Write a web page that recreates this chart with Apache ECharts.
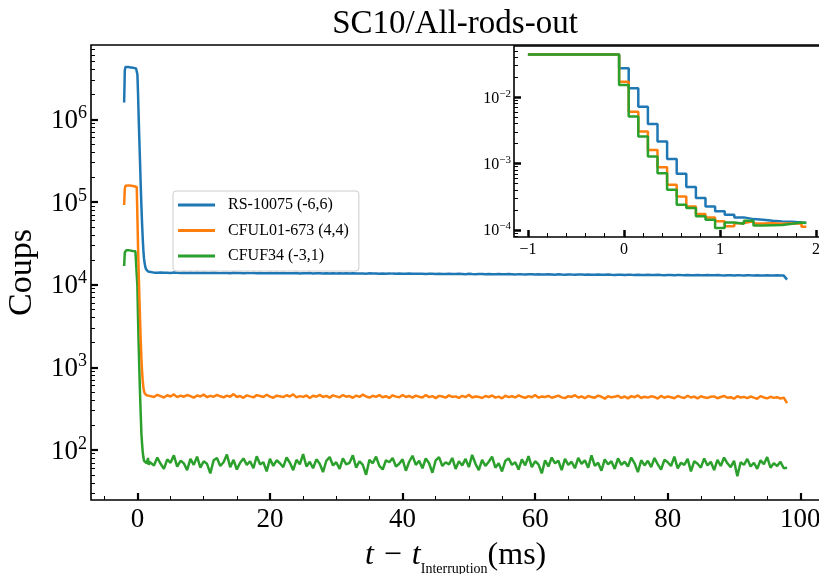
<!DOCTYPE html>
<html><head><meta charset="utf-8">
<script src="https://cdn.jsdelivr.net/npm/echarts@6/dist/echarts.min.js"></script>
<style>html,body{margin:0;padding:0;background:#fff}#c{width:819px;height:574px}</style>
</head><body><div id="c"></div>
<script>
const FONT = 'Liberation Serif';
const seriesNames = ['RS-10075 (-6,6)', 'CFUL01-673 (4,4)', 'CFUF34 (-3,1)'];
const colors = ['#1f77b4', '#ff7f0e', '#2ca02c'];

// time (ms) around the interruption, 0.1 ms bins
const tTransition = [-2.0,-1.9,-1.8,-1.7,-1.6,-1.5,-1.4,-1.3,-1.2,-1.1,-1.0,-0.9,-0.8,-0.7,-0.6,-0.5,-0.4,-0.3,-0.2,-0.1,
  0.0,0.1,0.2,0.3,0.4,0.5,0.6,0.7,0.8,0.9,1.0,1.1,1.2,1.3,1.4,1.5,1.6,1.7,1.8,1.9];
// time (ms) after the transient
const tFlat = [2,2.5,3,3.5,4,4.5,5,5.5,6,6.5,7,7.5,8,8.5,9,9.5,10,10.5,11,11.5,12,12.5,13,13.5,14,14.5,15,15.5,16,16.5,17,17.5,18,18.5,19,19.5,20,20.5,21,21.5,22,22.5,23,23.5,24,24.5,25,25.5,26,26.5,27,27.5,28,28.5,29,29.5,30,30.5,31,31.5,32,32.5,33,33.5,34,34.5,35,35.5,36,36.5,37,37.5,38,38.5,39,39.5,40,40.5,41,41.5,42,42.5,43,43.5,44,44.5,45,45.5,46,46.5,47,47.5,48,48.5,49,49.5,50,50.5,51,51.5,52,52.5,53,53.5,54,54.5,55,55.5,56,56.5,57,57.5,58,58.5,59,59.5,60,60.5,61,61.5,62,62.5,63,63.5,64,64.5,65,65.5,66,66.5,67,67.5,68,68.5,69,69.5,70,70.5,71,71.5,72,72.5,73,73.5,74,74.5,75,75.5,76,76.5,77,77.5,78,78.5,79,79.5,80,80.5,81,81.5,82,82.5,83,83.5,84,84.5,85,85.5,86,86.5,87,87.5,88,88.5,89,89.5,90,90.5,91,91.5,92,92.5,93,93.5,94,94.5,95,95.5,96,96.5,97,97.5,98];

const blueTransition = [1.6e6,3.9e6,4.3e6,4.35e6,4.35e6,4.35e6,4.3e6,4.3e6,4.3e6,4.28e6,4.25e6,4.25e6,4.22e6,4.2e6,4.2e6,4.18e6,4.15e6,4.15e6,4.12e6,4.1e6,
  3.5e6,2.0e6,1.0e6,5.4e5,3.0e5,1.6e5,9.2e4,5.6e4,3.7e4,2.6e4,2.05e4,1.8e4,1.63e4,1.54e4,1.49e4,1.46e4,1.44e4,1.43e4,1.42e4,1.41e4];
const blueFlat = [14050,13980,13920,14010,13890,13950,13870,13990,13910,13840,
  13930,13880,13960,13850,13900,13820,13940,13870,13800,13910,
  13850,13790,13880,13830,13760,13900,13810,13850,13770,13840,
  13790,13860,13740,13820,13780,13710,13850,13760,13800,13730,
  13810,13700,13770,13740,13820,13690,13760,13720,13800,13680,
  13750,13700,13640,13770,13680,13730,13660,13710,13620,13740,
  13660,13700,13610,13690,13640,13580,13700,13620,13660,13590,
  13640,13560,13670,13600,13550,13630,13580,13520,13650,13570,
  13510,13600,13540,13480,13590,13530,13470,13560,13500,13440,
  13540,13470,13420,13520,13460,13400,13510,13440,13380,13480,
  13420,13360,13470,13400,13340,13450,13390,13330,13420,13370,
  13310,13410,13340,13290,13380,13320,13260,13370,13300,13250,
  13340,13280,13220,13330,13260,13210,13300,13240,13190,13290,
  13230,13170,13270,13210,13150,13250,13190,13140,13230,13170,
  13120,13220,13160,13100,13200,13140,13090,13180,13120,13070,
  13170,13110,13050,13150,13090,13040,13130,13080,13020,13120,
  13060,13010,13100,13040,12990,13090,13030,12980,13070,13010,
  12960,13060,13000,12950,13040,12990,12940,13030,12970,12920,
  13020,12960,12910,13000,12950,12900,12990,12930,12880,12970,
  12920,12870,11500];

const orangeTransition = [9.2e4,1.45e5,1.57e5,1.59e5,1.6e5,1.6e5,1.59e5,1.59e5,1.58e5,1.58e5,1.57e5,1.57e5,1.56e5,1.56e5,1.55e5,1.55e5,1.54e5,1.53e5,1.53e5,1.52e5,
  6.5e4,2.8e4,1.35e4,7.0e3,3.8e3,2.1e3,1.3e3,900,690,575,515,485,470,462,458,455,453,452,451,450];
const orangeFlat = [452,438,465,447,431,459,444,470,436,455,
  441,462,448,429,457,443,468,435,451,440,
  463,446,432,455,441,474,438,449,427,458,
  445,433,461,450,437,466,442,428,454,447,
  436,459,443,471,432,448,439,456,425,452,
  440,464,437,451,430,457,445,433,462,441,
  449,428,455,438,467,443,431,452,439,460,
  434,447,426,458,442,435,463,437,450,429,
  454,440,432,461,436,448,424,451,443,430,
  457,438,445,427,452,435,466,431,444,439,
  425,449,437,456,430,442,421,453,436,447,
  432,458,440,426,448,434,462,429,443,437,
  451,428,441,455,433,424,447,438,460,431,
  444,423,450,436,429,454,440,418,446,433,
  439,452,427,443,421,448,435,457,425,441,
  430,446,438,419,451,428,444,434,422,449,
  436,425,453,431,442,420,447,433,426,440,
  445,422,437,450,428,434,417,446,431,439,
  424,443,429,416,448,432,421,440,427,435,
  419,430,368];

const greenTransition = [1.68e4,2.45e4,2.58e4,2.6e4,2.62e4,2.62e4,2.6e4,2.6e4,2.6e4,2.58e4,2.58e4,2.57e4,2.56e4,2.56e4,2.55e4,2.54e4,2.54e4,2.53e4,2.52e4,2.5e4,
  9.5e3,3.8e3,1.75e3,880,470,270,160,120,95,82,74,78,70,76,69,73,80,66,72,75];
const greenFlat = [72,65,81,68,59,77,70,86,63,74,
  69,57,78,66,83,61,73,68,52,75,
  80,64,71,88,62,76,58,70,79,66,
  73,60,84,67,71,55,78,64,75,69,
  62,81,70,57,76,67,89,63,72,60,
  77,68,54,74,82,65,71,59,79,67,
  70,86,61,73,66,50,76,69,83,64,
  58,75,71,80,63,68,77,56,72,85,
  66,74,60,79,69,53,75,82,64,71,
  67,80,59,73,65,78,62,87,68,57,
  76,64,72,83,61,69,55,74,79,66,
  71,58,77,65,84,62,73,67,52,75,
  63,81,69,74,57,78,66,72,60,80,
  68,75,61,86,64,70,56,77,67,73,
  59,79,66,72,63,81,69,54,75,65,
  74,62,80,67,58,76,71,64,83,60,
  70,66,78,55,73,68,61,79,65,72,
  57,76,64,81,69,62,74,48,71,66,
  78,63,70,59,75,67,82,61,69,64,
  72,60,61];

// inset: normalised counts, 0.1 ms steps
const insetT = [-1.0,-0.05,0.05,0.15,0.25,0.35,0.45,0.55,0.65,0.75,0.85,0.95,1.05,1.15,1.25,1.35,1.45,1.55,1.65,1.75,1.85,1.9];
const insetBlue = [0.0443,0.0273,0.01365,0.00723,0.00397,0.00215,0.00118,0.000703,0.000444,0.000303,0.000227,0.000191,0.000170,0.000155,0.000146,0.000143,0.000138,0.000135,0.000133,0.000130,0.000129,0.000129];
const insetOrange = [0.0443,0.0172,0.00608,0.00304,0.00161,0.000885,0.000481,0.000321,0.000227,0.000174,0.000155,0.000135,0.000114,0.000127,0.000135,0.000125,0.000127,0.000124,0.000127,0.000125,0.000112,0.000112];
const insetGreen = [0.0443,0.0153,0.00512,0.00256,0.00128,0.000719,0.000404,0.00024,0.000214,0.000161,0.000143,0.000107,0.00013,0.000124,0.000138,0.000117,0.000118,0.000119,0.000124,0.00013,0.000128,0.000128];

// ticks
const xMajorTicks = [0,20,40,60,80,100];
const xMinorTicks = [-5,5,10,15,25,30,35,45,50,55,65,70,75,85,90,95];
const yMajorTicks = [1e2,1e3,1e4,1e5,1e6];
const insetXMajor = [-1,0,1,2];
const insetXMinor = [-0.8,-0.6,-0.4,-0.2,0.2,0.4,0.6,0.8,1.2,1.4,1.6,1.8];
const insetYMajor = [1e-4,1e-3,1e-2];
const decadeMultipliers = [2,3,4,5,6,7,8,9];

function minorLog(fromExp, toExp) {
  const out = [];
  for (let e = fromExp; e <= toExp; e++) decadeMultipliers.forEach(m => out.push(+(m * Math.pow(10, e)).toPrecision(6)));
  return out;
}
const yMinorTicks = minorLog(1, 6);
const insetYMinor = minorLog(-5, -2);

function pairs(ts, vs) { const n = Math.min(ts.length, vs.length); const r = []; for (let i = 0; i < n; i++) r.push([ts[i], vs[i]]); return r; }
const tMain = tTransition.concat(tFlat);
const mainData = [blueTransition.concat(blueFlat), orangeTransition.concat(orangeFlat), greenTransition.concat(greenFlat)];
const insetData = [insetBlue, insetOrange, insetGreen];

function powLabel(v) {
  const e = Math.round(Math.log10(v));
  return '{b|10}{s|' + (e < 0 ? '\u2212' + (-e) : e) + '}';
}
function minusLabel(v) { return v < 0 ? '\u2212' + Math.abs(v) : String(v); }

const MAIN_Y = [24.8, 7.94e6];
const INSET_Y = [7.85e-5, 0.0593];
const MAIN_X = [-7, 103];
const INSET_X = [-1.145, 2.045];

const chart = echarts.init(document.getElementById('c'), null, {renderer: 'canvas'});
const baseAxis = { axisLine: {show: false, onZero: false}, splitLine: {show: false} };
chart.setOption({
  animation: false,
  backgroundColor: '#fff',
  title: {
    text: 'SC10/All-rods-out', left: 455, top: 8, textAlign: 'center', padding: 0,
    textStyle: {fontFamily: FONT, fontSize: 33, fontWeight: 'normal', color: '#000'}
  },
  legend: {
    data: seriesNames, orient: 'vertical', left: 173, top: 191,
    icon: 'rect', itemWidth: 37, itemHeight: 3, itemGap: 7.5,
    padding: [5, 10, 6, 5],
    backgroundColor: 'rgba(255,255,255,0.85)', borderColor: '#cccccc', borderWidth: 1, borderRadius: 3,
    textStyle: {fontFamily: FONT, fontSize: 16, color: '#000', lineHeight: 18, padding: [0, 0, 0, 8]}
  },
  grid: [
    {left: 91, right: -1.2, top: 45, bottom: 74, show: true, borderColor: '#000', borderWidth: 1.6, backgroundColor: 'transparent', containLabel: false, outerBoundsMode: 'none'},
    {left: 514, right: -1.2, top: 46, bottom: 337, show: true, borderColor: '#000', borderWidth: 1.6, backgroundColor: '#fff', containLabel: false, outerBoundsMode: 'none'}
  ],
  xAxis: [
    Object.assign({}, baseAxis, {
      type: 'value', gridIndex: 0, min: MAIN_X[0], max: MAIN_X[1], position: 'bottom',
      axisTick: {inside: true, length: 7, lineStyle: {width: 2.2, color: '#000'}, customValues: xMajorTicks},
      axisLabel: {customValues: xMajorTicks, fontFamily: FONT, fontSize: 27, color: '#000', margin: 6},
      name: '{it|t}{op|\u2212}{it|t}{sub|Interruption}{n|(ms)}', nameLocation: 'middle', nameGap: 40,
      nameTextStyle: {
        fontFamily: FONT, fontSize: 32, color: '#000',
        rich: {
          it: {fontFamily: FONT, fontStyle: 'italic', fontSize: 32, lineHeight: 34, verticalAlign: 'top'},
          op: {fontFamily: FONT, fontSize: 32, lineHeight: 34, verticalAlign: 'top', padding: [0, 10, 0, 10]},
          sub: {fontFamily: FONT, fontSize: 14, lineHeight: 14, verticalAlign: 'top', padding: [22, 0, 0, 0]},
          n: {fontFamily: FONT, fontSize: 32, lineHeight: 34, verticalAlign: 'top'}
        }
      }
    }),
    Object.assign({}, baseAxis, {
      type: 'value', gridIndex: 0, min: MAIN_X[0], max: MAIN_X[1], position: 'bottom',
      axisTick: {inside: true, length: 4, lineStyle: {width: 1, color: '#000'}, customValues: xMinorTicks},
      axisLabel: {show: false}
    }),
    Object.assign({}, baseAxis, {
      type: 'value', gridIndex: 1, min: INSET_X[0], max: INSET_X[1], position: 'bottom',
      axisTick: {inside: true, length: 7, lineStyle: {width: 2.5, color: '#000'}, customValues: insetXMajor},
      axisLabel: {customValues: insetXMajor, formatter: minusLabel, fontFamily: FONT, fontSize: 16, color: '#000', margin: 5}
    }),
    Object.assign({}, baseAxis, {
      type: 'value', gridIndex: 1, min: INSET_X[0], max: INSET_X[1], position: 'bottom',
      axisTick: {inside: true, length: 4, lineStyle: {width: 1, color: '#000'}, customValues: insetXMinor},
      axisLabel: {show: false}
    })
  ],
  yAxis: [
    Object.assign({}, baseAxis, {
      type: 'log', gridIndex: 0, min: MAIN_Y[0], max: MAIN_Y[1], position: 'left',
      axisTick: {inside: true, length: 7, lineStyle: {width: 2.2, color: '#000'}, customValues: yMajorTicks},
      axisLabel: {
        customValues: yMajorTicks, formatter: powLabel, margin: 4, color: '#000',
        rich: {
          b: {fontFamily: FONT, fontSize: 27, lineHeight: 30, verticalAlign: 'bottom', color: '#000'},
          s: {fontFamily: FONT, fontSize: 18, lineHeight: 18, verticalAlign: 'top', color: '#000'}
        }
      },
      name: 'Coups', nameLocation: 'middle', nameRotate: 90, nameGap: 52,
      nameTextStyle: {fontFamily: FONT, fontSize: 34, color: '#000'}
    }),
    Object.assign({}, baseAxis, {
      type: 'log', gridIndex: 0, min: MAIN_Y[0], max: MAIN_Y[1], position: 'left',
      axisTick: {inside: true, length: 4, lineStyle: {width: 1, color: '#000'}, customValues: yMinorTicks},
      axisLabel: {show: false}
    }),
    Object.assign({}, baseAxis, {
      type: 'log', gridIndex: 1, min: INSET_Y[0], max: INSET_Y[1], position: 'left',
      axisTick: {inside: true, length: 7, lineStyle: {width: 2.5, color: '#000'}, customValues: insetYMajor},
      axisLabel: {
        customValues: insetYMajor, formatter: powLabel, margin: 3, color: '#000',
        rich: {
          b: {fontFamily: FONT, fontSize: 16, lineHeight: 18, verticalAlign: 'bottom', color: '#000'},
          s: {fontFamily: FONT, fontSize: 11, lineHeight: 11, verticalAlign: 'top', color: '#000'}
        }
      }
    }),
    Object.assign({}, baseAxis, {
      type: 'log', gridIndex: 1, min: INSET_Y[0], max: INSET_Y[1], position: 'left',
      axisTick: {inside: true, length: 4, lineStyle: {width: 1, color: '#000'}, customValues: insetYMinor},
      axisLabel: {show: false}
    })
  ],
  series: seriesNames.map((name, i) => ({
    name: name, type: 'line', xAxisIndex: 0, yAxisIndex: 0, data: pairs(tMain, mainData[i]),
    symbol: 'none', showSymbol: false, clip: true, z: 3 - i,
    lineStyle: {width: 2.5, color: colors[i]}, itemStyle: {color: colors[i]}
  })).concat(seriesNames.map((name, i) => ({
    name: 'inset ' + name, type: 'line', xAxisIndex: 2, yAxisIndex: 2, data: pairs(insetT, insetData[i]),
    step: 'end', symbol: 'none', showSymbol: false, clip: true, z: 5 + i,
    lineStyle: {width: 2.5, color: colors[i]}, itemStyle: {color: colors[i]}
  })))
});
</script></body></html>
